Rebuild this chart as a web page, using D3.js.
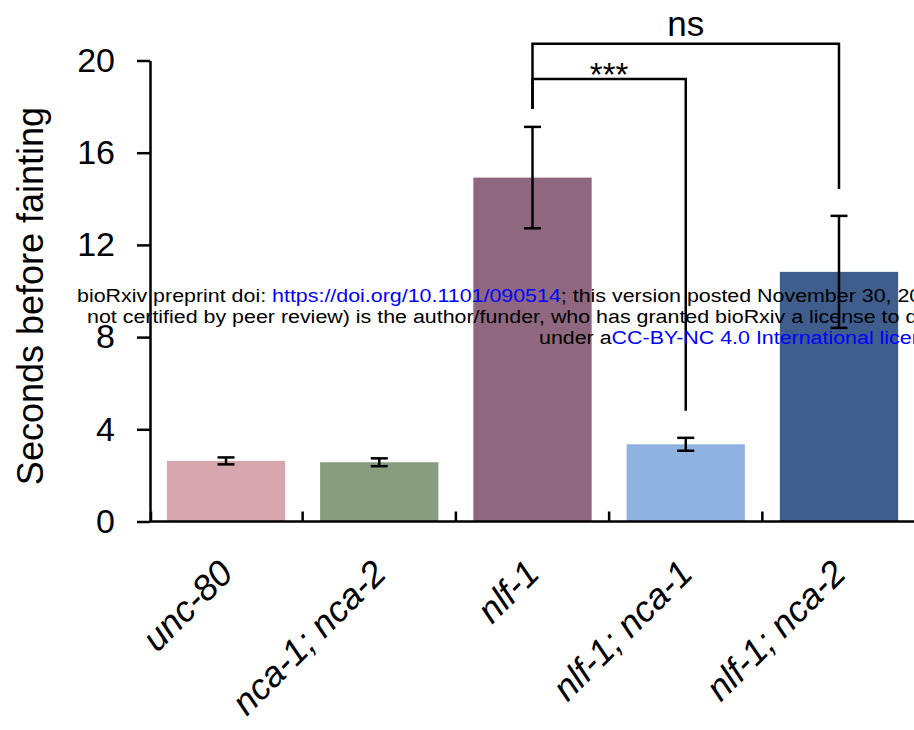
<!DOCTYPE html>
<html>
<head>
<meta charset="utf-8">
<script src="https://cdn.jsdelivr.net/npm/d3@7"></script>
<style>
  body { margin: 0; background: #fff; }
  svg { display: block; font-family: "Liberation Sans", Arial, sans-serif; }
</style>
</head>
<body>
<svg id="chart"></svg>
<script>
// dados
var strains = ["unc-80", "nca-1; nca-2", "nlf-1", "nlf-1; nca-1", "nlf-1; nca-2"];
var means   = [2.63, 2.57, 14.92, 3.35, 10.83];
var sems    = [0.15, 0.17, 2.2, 0.28, 2.43];
var colors  = ["#d7a7ad", "#879d7e", "#8f687f", "#90b2e1", "#3f5e8d"];
var yTicks  = [0, 4, 8, 12, 16, 20];

// comparações (valores em segundos: altura do colchete e fim das pernas)
var comparisons = [
  {a: "nlf-1", b: "nlf-1; nca-2", label: "ns",  top: 20.73, endA: 17.9, endB: 14.43},
  {a: "nlf-1", b: "nlf-1; nca-1", label: "***", top: 19.2,  endA: 17.9, endB: 4.8}
];

var watermark = [
  [{t: "bioRxiv preprint doi: ", c: "#000"}, {t: "https://doi.org/10.1101/090514", c: "#0000ff"},
   {t: "; this version posted November 30, 2016. The copyright holder for this preprint (which was", c: "#000"}],
  [{t: "not certified by peer review) is the author/funder, who has granted bioRxiv a license to display the preprint in perpetuity. It is made available", c: "#000"}],
  [{t: "under a", c: "#000"}, {t: "CC-BY-NC 4.0 International license", c: "#0000ff"}, {t: ".", c: "#000"}]
];

var width = 914, height = 730;

var svg = d3.select("#chart")
  .attr("width", width)
  .attr("height", height);

svg.append("rect")
  .attr("width", width)
  .attr("height", height)
  .style("fill", "#fff");

// escalas
var y = d3.scaleLinear().domain([0, 20]).range([521.5, 60.5]);
var x = d3.scaleBand()
  .domain(strains)
  .range([150, 915])
  .paddingInner(0.228)
  .paddingOuter(0.11);

// barras
svg.append("g").selectAll("rect")
  .data(strains)
  .enter().append("rect")
  .attr("x", function(d) { return x(d); })
  .attr("y", function(d, i) { return y(means[i]); })
  .attr("width", x.bandwidth())
  .attr("height", function(d, i) { return y(0) - y(means[i]); })
  .style("fill", function(d, i) { return colors[i]; });

// barras de erro
var capW = 8.5;
var err = svg.append("g")
  .style("stroke", "#000")
  .style("stroke-width", 2.5)
  .style("fill", "none");

strains.forEach(function(d, i) {
  var cx = x(d) + x.bandwidth() / 2;
  var hi = y(means[i] + sems[i]), lo = y(means[i] - sems[i]);
  err.append("line").attr("x1", cx).attr("x2", cx).attr("y1", hi).attr("y2", lo);
  err.append("line").attr("x1", cx - capW).attr("x2", cx + capW).attr("y1", hi).attr("y2", hi);
  err.append("line").attr("x1", cx - capW).attr("x2", cx + capW).attr("y1", lo).attr("y2", lo);
});

// eixo Y
var yAxis = d3.axisLeft(y)
  .tickValues(yTicks)
  .tickSize(13)
  .tickSizeOuter(0)
  .tickPadding(22);

var yAxisG = svg.append("g")
  .attr("transform", "translate(150,0)")
  .call(yAxis);

yAxisG.selectAll("path, line")
  .style("stroke", "#000")
  .style("stroke-width", 2.5);
yAxisG.selectAll("text")
  .style("font-family", "'Liberation Sans', Arial, sans-serif")
  .style("font-size", "34px")
  .style("fill", "#000");

// eixo X: linha + marcas internas entre as categorias
var xAxisG = svg.append("g")
  .style("stroke", "#000")
  .style("stroke-width", 2.5);

xAxisG.append("line")
  .attr("x1", 150).attr("x2", width)
  .attr("y1", y(0)).attr("y2", y(0));

var gap = x.step() * x.paddingInner() / 2;
strains.forEach(function(d, i) {
  var sx = i === 0 ? 151 : x(d) - gap;
  xAxisG.append("line")
    .attr("x1", sx).attr("x2", sx)
    .attr("y1", y(0)).attr("y2", y(0) - 10);
});

// rótulos das categorias
svg.append("g").selectAll("text")
  .data(strains)
  .enter().append("text")
  .attr("transform", function(d) {
    return "translate(" + (x(d) + x.bandwidth() / 2 + 9) + "," + (y(0) + 54) + ") rotate(-45)";
  })
  .attr("text-anchor", "end")
  .style("font-size", "36px")
  .style("font-style", "italic")
  .text(function(d) { return d; });

// título do eixo Y
svg.append("text")
  .attr("transform", "translate(43,296) rotate(-90)")
  .attr("text-anchor", "middle")
  .style("font-size", "36px")
  .text("Seconds before fainting");

// colchetes de significância
var br = svg.append("g");
comparisons.forEach(function(c) {
  var xa = x(c.a) + x.bandwidth() / 2, xb = x(c.b) + x.bandwidth() / 2;
  br.append("path")
    .attr("d", "M" + xa + "," + y(c.endA) + "V" + y(c.top) + "H" + xb + "V" + y(c.endB))
    .style("fill", "none")
    .style("stroke", "#000")
    .style("stroke-width", 2.5);
  br.append("text")
    .attr("x", (xa + xb) / 2)
    .attr("y", c.label === "ns" ? y(c.top) - 8 : y(c.top) + 7)
    .attr("text-anchor", "middle")
    .style("font-size", c.label === "ns" ? "35px" : "33px")
    .text(c.label);
});

// marca d'água do bioRxiv
var wmStart = [[77, 302], [87, 323], [539, 344]];
var wm = svg.append("g");
watermark.forEach(function(line, i) {
  var t = wm.append("text")
    .attr("transform", "translate(" + wmStart[i][0] + "," + wmStart[i][1] + ") scale(1.19,1)")
    .style("font-size", "18px");
  line.forEach(function(seg) {
    t.append("tspan").style("fill", seg.c).text(seg.t);
  });
});
</script>
</body>
</html>
